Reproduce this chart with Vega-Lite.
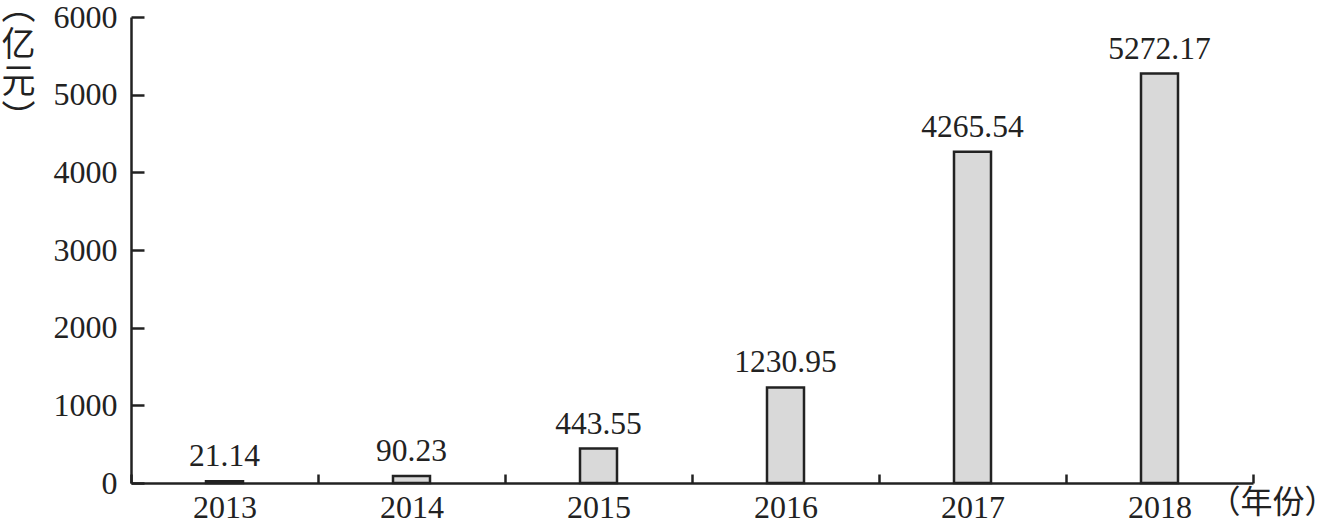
{
  "$schema": "https://vega.github.io/schema/vega-lite/v6.json",
  "autosize": {"type": "none"},
  "padding": {"left": 131, "top": 17, "right": 83, "bottom": 41},
  "width": 1122,
  "height": 466,
  "background": "white",
  "config": {
    "view": {"stroke": null},
    "font": "Liberation Serif"
  },
  "data": {
    "values": [
      {"year": "2013", "value": 21.14},
      {"year": "2014", "value": 90.23},
      {"year": "2015", "value": 443.55},
      {"year": "2016", "value": 1230.95},
      {"year": "2017", "value": 4265.54},
      {"year": "2018", "value": 5272.17}
    ]
  },
  "encoding": {
    "x": {
      "field": "year",
      "type": "nominal",
      "scale": {"paddingInner": 0, "paddingOuter": 0},
      "axis": {
        "title": "（年份）",
        "titleFont": "Noto Sans CJK SC",
        "titleFontWeight": "normal",
        "titleFontSize": 32,
        "titleColor": "#222",
        "titleAnchor": "start",
        "titleAlign": "left",
        "titleBaseline": "middle",
        "titleX": 1077,
        "titleY": 19,
        "labelAngle": 0,
        "labelFont": "Liberation Serif",
        "labelFontSize": 32,
        "labelColor": "#222",
        "labelPadding": 18,
        "labelBaseline": "top",
        "domainColor": "#222",
        "domainWidth": 2.5,
        "tickColor": "#222",
        "tickWidth": 2.5,
        "tickSize": -9,
        "tickBand": "extent"
      }
    },
    "y": {
      "field": "value",
      "type": "quantitative",
      "scale": {"domain": [0, 6000], "nice": false},
      "axis": {
        "values": [0, 1000, 2000, 3000, 4000, 5000, 6000],
        "format": "d",
        "grid": false,
        "title": ["︵", "亿", "元", "︶"],
        "titleFont": "Noto Sans CJK SC",
        "titleFontWeight": "normal",
        "titleFontSize": 34,
        "titleLineHeight": 37,
        "titleColor": "#222",
        "titleAngle": 0,
        "titleAlign": "center",
        "titleBaseline": "top",
        "titleX": -113,
        "titleY": -26,
        "labelFont": "Liberation Serif",
        "labelFontSize": 32,
        "labelColor": "#222",
        "labelPadding": 27,
        "domainColor": "#222",
        "domainWidth": 2.5,
        "tickColor": "#222",
        "tickWidth": 2.5,
        "tickSize": -13
      }
    }
  },
  "layer": [
    {
      "mark": {"type": "bar", "size": 37, "fill": "#d9d9d9", "stroke": "#222", "strokeWidth": 2.5},
      "encoding": {"y": {"field": "value", "type": "quantitative"}}
    },
    {
      "mark": {"type": "text", "font": "Liberation Serif", "fontSize": 31.5, "color": "#222", "baseline": "bottom", "dy": -8},
      "encoding": {
        "y": {"field": "value", "type": "quantitative"},
        "text": {"field": "value", "type": "quantitative", "format": ".2f"}
      }
    }
  ]
}
